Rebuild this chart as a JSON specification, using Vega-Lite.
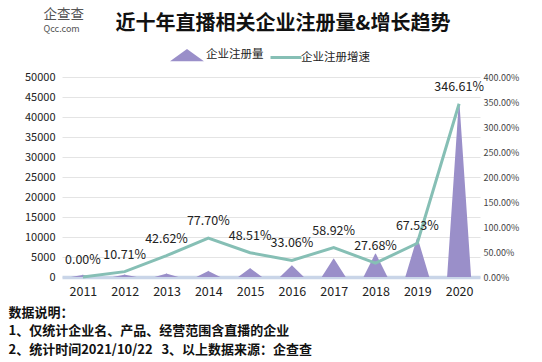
{
  "$schema": "https://vega.github.io/schema/vega-lite/v6.json",
  "width": 418,
  "height": 200,
  "autosize": "none",
  "padding": {"left": 62, "top": 77, "right": 62, "bottom": 85},
  "background": "white",
  "config": {"font": "Noto Sans CJK SC", "view": {"stroke": null}},
  "title": {
    "text": "近十年直播相关企业注册量&增长趋势",
    "fontSize": 20,
    "fontWeight": "bold",
    "color": "#111111",
    "anchor": "middle",
    "dx": 12,
    "offset": -27
  },
  "data": {
    "values": [
      {"year": "2011", "count": 510, "growth": 0},
      {"year": "2012", "count": 565, "growth": 0.1071},
      {"year": "2013", "count": 806, "growth": 0.4262},
      {"year": "2014", "count": 1432, "growth": 0.777},
      {"year": "2015", "count": 2127, "growth": 0.4851},
      {"year": "2016", "count": 2830, "growth": 0.3306},
      {"year": "2017", "count": 4498, "growth": 0.5892},
      {"year": "2018", "count": 5743, "growth": 0.2768},
      {"year": "2019", "count": 9621, "growth": 0.6753},
      {"year": "2020", "count": 42968, "growth": 3.4661}
    ]
  },
  "encoding": {
    "x": {
      "field": "year",
      "type": "ordinal",
      "scale": {"type": "point", "padding": 0.5},
      "axis": {
        "labelAngle": 0,
        "labelFontSize": 12.5,
        "labelColor": "#222222",
        "labelPadding": 8,
        "ticks": false,
        "domainColor": "#c9d5e8",
        "domainWidth": 3.5,
        "title": ["数据说明：", "1、仅统计企业名、产品、经营范围含直播的企业", "2、统计时间2021/10/22\u00a0\u00a0\u00a03、以上数据来源：企查查"],
        "titleFontSize": 13,
        "titleFontWeight": "bold",
        "titleColor": "#111111",
        "titleAnchor": "start",
        "titleAlign": "left",
        "titleBaseline": "top",
        "titleLineHeight": 18.5,
        "titleX": -54,
        "titleY": 29
      }
    }
  },
  "layer": [
    {
      "transform": [
        {"fold": ["count"], "as": ["vertex", "value"]},
        {"impute": "value", "key": "vertex", "keyvals": ["base", "count"], "groupby": ["year"], "value": 0}
      ],
      "mark": {"type": "trail", "clip": true},
      "encoding": {
        "y": {
          "field": "value",
          "type": "quantitative",
          "scale": {"domain": [0, 50000], "nice": false},
          "axis": {
            "values": [0, 5000, 10000, 15000, 20000, 25000, 30000, 35000, 40000, 45000, 50000],
            "format": "d",
            "labelFontSize": 11,
            "labelColor": "#222222",
            "labelPadding": 7,
            "domain": false,
            "ticks": false,
            "grid": true,
            "gridColor": "#e4e4e4",
            "title": "企查查",
            "titleAngle": 0,
            "titleFontSize": 13.5,
            "titleFontWeight": "normal",
            "titleColor": "#555555",
            "titleAlign": "left",
            "titleBaseline": "middle",
            "titleX": -19,
            "titleY": -63
          }
        },
        "size": {"condition": {"test": "datum.vertex === 'base'", "value": 24}, "value": 0},
        "detail": {"field": "year"},
        "order": {"field": "vertex"},
        "color": {
          "datum": "企业注册量",
          "type": "nominal",
          "scale": {"domain": ["企业注册量", "企业注册增速"], "range": ["#9a8fc9", "#86bfb5"]},
          "legend": {
            "title": null,
            "orient": "none",
            "direction": "horizontal",
            "legendX": 111,
            "legendY": -36,
            "labelFontSize": 11.5,
            "labelColor": "#222222",
            "labelOffset": 5,
            "columnPadding": 0,
            "symbolSize": 605,
            "encode": {
              "symbols": {
                "update": {
                  "shape": {"signal": "datum.value === '企业注册量' ? 'M-1,0.36L0,-0.36L1,0.36Z' : 'M-1.26,0L1.26,0'"},
                  "fill": {"signal": "datum.value === '企业注册量' ? '#9a8fc9' : 'transparent'"},
                  "stroke": {"signal": "datum.value === '企业注册量' ? 'transparent' : '#86bfb5'"},
                  "strokeWidth": {"value": 3},
                  "size": {"value": 605}
                }
              },
              "labels": {
                "update": {
                  "dx": {"signal": "datum.value === '企业注册增速' ? -4 : 0"}
                }
              }
            }
          }
        }
      }
    },
    {
      "encoding": {
        "y": {
          "field": "growth",
          "type": "quantitative",
          "scale": {"domain": [0, 4], "nice": false},
          "axis": {
            "orient": "right",
            "values": [0, 0.5, 1, 1.5, 2, 2.5, 3, 3.5, 4],
            "format": ".2%",
            "labelFontSize": 9,
            "labelColor": "#444444",
            "labelPadding": 3,
            "domain": false,
            "ticks": false,
            "grid": false,
            "title": "Qcc.com",
            "titleAngle": 0,
            "titleFontSize": 9,
            "titleFontWeight": "normal",
            "titleColor": "#555555",
            "titleAlign": "left",
            "titleBaseline": "middle",
            "titleX": -437,
            "titleY": -49
          }
        }
      },
      "layer": [
        {
          "mark": {"type": "line", "strokeWidth": 3, "strokeJoin": "miter"},
          "encoding": {"color": {"datum": "企业注册增速", "type": "nominal"}}
        },
        {
          "mark": {"type": "text", "dy": -17, "fontSize": 12.5, "color": "#222222"},
          "encoding": {
            "text": {"field": "growth", "type": "quantitative", "format": ".2%"},
            "xOffset": {"condition": {"test": "datum.year === '2020'", "value": -13}, "value": 0}
          }
        }
      ]
    }
  ],
  "resolve": {"scale": {"y": "independent"}}
}
